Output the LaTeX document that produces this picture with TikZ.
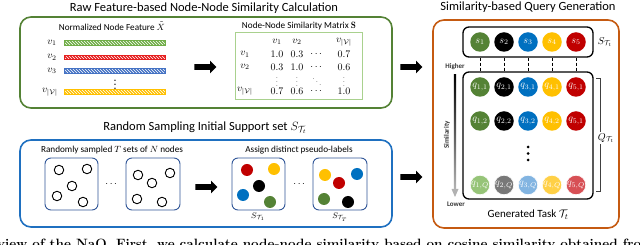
\documentclass[tikz,border=0pt]{standalone}
\usepackage{amsmath,amssymb}
\usepackage{fontspec}
\newfontfamily\carl{Carlito}
\usetikzlibrary{patterns,shapes.arrows,calc}
\definecolor{cgreen}{RGB}{84,130,53}
\definecolor{cred}{RGB}{192,0,0}
\definecolor{cblue}{RGB}{0,112,192}
\definecolor{cyellow}{RGB}{255,192,0}
\definecolor{lgreen}{RGB}{150,196,120}
\definecolor{lgray}{RGB}{120,120,120}
\definecolor{lblue}{RGB}{130,180,225}
\definecolor{lyellow}{RGB}{255,208,70}
\definecolor{lred}{RGB}{215,80,85}
\definecolor{bgreen}{RGB}{112,173,71}
\definecolor{bred}{RGB}{230,30,30}
\definecolor{bblue}{RGB}{68,114,196}
\definecolor{byellow}{RGB}{255,192,0}
\definecolor{boxgreen}{RGB}{84,130,53}
\definecolor{matgreen}{RGB}{169,209,142}
\definecolor{boxblue}{RGB}{31,112,192}
\definecolor{smallblue}{RGB}{47,85,151}
\definecolor{boxorange}{RGB}{197,90,17}
\tikzset{
  ttl/.style={font=\carl\fontsize{12.5}{14}\selectfont, inner sep=0pt},
  sub/.style={font=\carl\fontsize{9.2}{11}\selectfont, inner sep=0pt},
  bigbox/.style={line width=1.6pt, rounded corners=11pt},
  smallbox/.style={draw=smallblue, line width=0.9pt, rounded corners=6pt},
  blockarrow/.style={shape=single arrow, fill=black, draw=none, inner sep=2.6pt,
    minimum height=22pt, single arrow head extend=3.6pt, single arrow tip angle=90},
  featbar/.style={draw=#1, line width=0.9pt, preaction={fill=#1}, pattern=north west lines,
    pattern color=white, minimum width=101pt, minimum height=4.5pt, inner sep=0pt},
  vlab/.style={inner sep=0pt, font=\fontsize{10}{12}\selectfont},
  mcell/.style={inner sep=0pt, font=\fontsize{10}{12}\selectfont},
  mdots/.style={inner sep=0pt, font=\fontsize{7}{8}\selectfont},
  hollow/.style={circle, draw=black, line width=0.9pt, minimum size=9.5pt, inner sep=0pt},
  dot/.style={circle, fill=#1, minimum size=12pt, inner sep=0pt},
  qc/.style={circle, fill=#1, minimum size=19.5pt, inner sep=0pt, text=white,
    font=\fontsize{10}{10}\selectfont},
  lqc/.style={circle, fill=#1, draw=white, line width=0.6pt, minimum size=19.5pt, inner sep=0pt, text=white,
    font=\fontsize{10}{10}\selectfont},
  tiny/.style={font=\carl\bfseries\fontsize{7}{8}\selectfont, text=black!80, inner sep=0pt},
}
\begin{document}
\begin{tikzpicture}[x=1pt,y=-1pt]
\useasboundingbox (0,0) rectangle (640,245);
\clip (0,0) rectangle (640,245);

% ---------- top-left: similarity calculation ----------
\node[ttl] (t1) at (204,8) {Raw Feature-based Node-Node Similarity Calculation};
\draw[bigbox, draw=boxgreen] (20,17) rectangle (392,108);
\node[sub] (nf) at (112,26) {Normalized Node Feature $\tilde{X}$};
\node[featbar=bgreen] (b1) at (114.5,43) {};
\node[featbar=bred] (b2) at (114.5,57.5) {};
\node[featbar=bblue] (b3) at (114.5,71) {};
\node[featbar=byellow] (b4) at (114.5,92) {};
\node[vlab] (v1) at (52,43) {$v_1$};
\node[vlab] (v2) at (52,57.5) {$v_2$};
\node[vlab] (v3) at (52,71) {$v_3$};
\node[vlab] (v4) at (50,92) {$v_{|\mathcal{V}|}$};
\node[mdots, font=\bfseries\fontsize{9}{10}\selectfont] (vd) at (115,82) {$\vdots$};

\node[blockarrow] (a1) at (204,67) {};

\node[sub] (mt) at (299,26) {Node-Node Similarity Matrix $\mathbf{S}$};
\draw[draw=matgreen, line width=1pt] (235,33) rectangle (362,100);
\node[mcell] (h1) at (277,42) {$v_1$};
\node[mcell] (h2) at (297,42) {$v_2$};
\node[mcell] (h4) at (344,42) {$v_{|\mathcal{V}|}$};
\node[mcell] (r1) at (245,54.5) {$v_1$};
\node[mcell] (r2) at (245,67) {$v_2$};
\node[mcell] (r4) at (245,91) {$v_{|\mathcal{V}|}$};
\node[mcell] (m11) at (277,54.5) {$1.0$};
\node[mcell] (m12) at (297,54.5) {$0.3$};
\node[mcell] (m13) at (317,54.5) {$\cdots$};
\node[mcell] (m14) at (344,54.5) {$0.7$};
\node[mcell] (m21) at (277,67) {$0.3$};
\node[mcell] (m22) at (297,67) {$1.0$};
\node[mcell] (m23) at (317,67) {$\cdots$};
\node[mcell] (m24) at (344,67) {$0.6$};
\node[mdots] (m31) at (277,79) {$\vdots$};
\node[mdots] (m32) at (297,79) {$\vdots$};
\node[mdots] (m33) at (317,79) {$\ddots$};
\node[mdots] (m34) at (344,79) {$\vdots$};
\node[mcell] (m41) at (277,91) {$0.7$};
\node[mcell] (m42) at (297,91) {$0.6$};
\node[mcell] (m43) at (317,91) {$\cdots$};
\node[mcell] (m44) at (344,91) {$1.0$};

\node[blockarrow] (a2) at (410,67) {};

% ---------- bottom-left: random sampling ----------
\node[ttl] (t2) at (205,128) {Random Sampling Initial Support set $S_{\mathcal{T}_t}$};
\draw[bigbox, draw=boxblue] (20,140) rectangle (392,227);
\node[sub] (rs) at (112,150) {Randomly sampled $T$ sets of $N$ nodes};
\draw[smallbox] (45,158) rectangle (98,210);
\draw[smallbox] (126,158) rectangle (180,210);
\node[hollow] (h11) at (59,170) {};
\node[hollow] (h12) at (87,169) {};
\node[hollow] (h13) at (72,186) {};
\node[hollow] (h14) at (57,196) {};
\node[hollow] (h15) at (83,202) {};
\node[hollow] (h21) at (138,175) {};
\node[hollow] (h22) at (152,183) {};
\node[hollow] (h23) at (170,173) {};
\node[hollow] (h24) at (137,199) {};
\node[hollow] (h25) at (162,202) {};
\node[inner sep=0pt] (d1) at (112,184) {$\cdots$};

\node[blockarrow] (a3) at (205,187) {};

\node[sub] (ap) at (299,150) {Assign distinct pseudo-labels};
\draw[smallbox] (232,158) rectangle (285,210);
\draw[smallbox] (313,158) rectangle (367,210);
\node[dot=cred] (p11) at (247,170) {};
\node[dot=cyellow] (p12) at (274,169) {};
\node[dot=black] (p13) at (259,186) {};
\node[dot=cblue] (p14) at (243,195) {};
\node[dot=cgreen] (p15) at (270,202) {};
\node[dot=cyellow] (p21) at (325,175) {};
\node[dot=cred] (p22) at (339,183) {};
\node[dot=cblue] (p23) at (357,174) {};
\node[dot=cgreen] (p24) at (324,199) {};
\node[dot=black] (p25) at (348,202) {};
\node[inner sep=0pt] (d2) at (300,184) {$\cdots$};
\node[inner sep=0pt, font=\fontsize{8.5}{9}\selectfont] (st1) at (258,217) {$S_{\mathcal{T}_1}$};
\node[inner sep=0pt, font=\fontsize{8.5}{9}\selectfont] (stT) at (340,217) {$S_{\mathcal{T}_T}$};

\node[blockarrow] (a4) at (410,177) {};

% ---------- right: query generation ----------
\node[ttl] (t3) at (528,7) {Similarity-based Query Generation};
\draw[bigbox, draw=boxorange] (433,20) rectangle (619,228);
\node[draw=black, line width=1.3pt, rounded corners=6pt, minimum width=130pt, minimum height=30pt, inner sep=0pt] (sb) at (528,42) {};
\node[draw=black, line width=1.3pt, rounded corners=6pt, minimum width=130pt, minimum height=127pt, inner sep=0pt] (qb) at (528,135.5) {};
\node[inner sep=0pt, font=\fontsize{10}{12}\selectfont] (slab) at (605,42) {$S_{\mathcal{T}_t}$};

\foreach \i/\c/\lc/\x in {1/cgreen/lgreen/480,2/black/lgray/504,3/cblue/lblue/528,4/cyellow/lyellow/552,5/cred/lred/576}{
  \node[qc=\c] (s\i) at (\x,42) {$s_{\i}$};
  \node[qc=\c] (q\i a) at (\x,87) {$q_{\i,1}$};
  \node[lqc=\lc] (q\i c) at (\x,185) {$q_{\i,Q}$};
  \draw[densely dashed, line width=0.9pt] (sb.south -| s\i) -- (qb.north -| s\i);
}
\node[qc=cgreen] (q1b) at (480,121) {$q_{1,2}$};
\node[qc=black] (q2b) at (504,121) {$q_{2,2}$};
\node[qc=cblue] (q3b) at (528,121) {$q_{3,2}$};
\node[qc=cyellow] (q4b) at (552,121) {$q_{4,2}$};
\node[qc=cred] (q5b) at (576,121) {$q_{5,1}$};
\foreach \y/\n in {147/1,153.5/2,160/3}{\node[circle, fill=black, minimum size=3pt, inner sep=0pt] (vd\n) at (528,\y) {};}

% bracket for Q
\coordinate (bt) at (596,78);
\coordinate (bb) at (596,191);
\draw[line width=0.8pt, draw=black!75] (bt) -- ++(4,0) coordinate (btr) -- (btr |- bb) -- (bb);
\node[fill=white, inner sep=1pt, font=\fontsize{10}{12}\selectfont] (qlab) at (606,138) {$Q_{\mathcal{T}_t}$};

% similarity axis
\node[tiny] (hi) at (455,67) {Higher};
\node[tiny] (lo) at (456,204) {Lower};
\node[tiny, rotate=90] (simlab) at (447,135) {Similarity};
\coordinate (ax1) at (455,75);
\coordinate (ax2) at (455,189);
\shade[top color=black, bottom color=black!30] ($(ax1)+(-1.2,0)$) rectangle ($(ax2)+(1.2,0)$);
\fill[black!30] ($(ax2)+(-3.5,0)$) -- ($(ax2)+(3.5,0)$) -- ($(ax2)+(0,8)$) -- cycle;

\node[sub, font=\carl\fontsize{11}{13}\selectfont] (gt) at (528,215) {Generated Task $\mathcal{T}_t$};

% ---------- cropped caption ----------
\node[anchor=base west, inner sep=0pt, font=\bfseries\fontsize{13.5}{16}\selectfont] (cap) at (-3,249) {view of the N\textsc{a}Q. First, we calculate node-node similarity based on cosine similarity obtained from};
\end{tikzpicture}
\end{document}
